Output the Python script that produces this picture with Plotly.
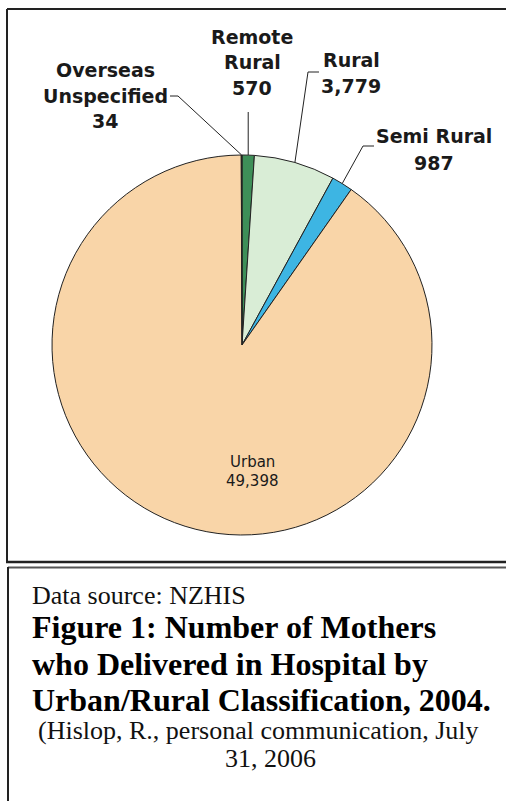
import math
import plotly.graph_objects as go

W, H = 506, 801

# ---- data ----
labels = ["Remote Rural", "Rural", "Semi Rural", "Urban", "Overseas Unspecified"]
values = [570, 3779, 987, 49398, 34]
colors = ["#3e8f58", "#d9edd6", "#3db5e3", "#f9d5a8", "#1f3a27"]

caption_source = "Data source: NZHIS"
caption_title = ["Figure 1: Number of Mothers",
                 "who Delivered in Hospital by",
                 "Urban/Rural Classification, 2004."]
caption_ref = ["(Hislop, R., personal communication, July", "31, 2006"]

# ---- geometry (pixels) ----
CX, CY, R = 242, 345, 190


def px(x, y):
    return x / W, 1 - y / H


def edge_point(label, frac=0.5):
    """point on pie rim at a fraction through the slice (clockwise from 12 o'clock)"""
    total = sum(values)
    i = labels.index(label)
    start = sum(values[:i])
    ang = (start + frac * values[i]) / total * 2 * math.pi
    return CX + R * math.sin(ang), CY - R * math.cos(ang)


fig = go.Figure(go.Pie(
    labels=labels, values=values, sort=False, direction="clockwise", rotation=0,
    marker=dict(colors=colors, line=dict(color="#222222", width=1)),
    textinfo="none", hoverinfo="label+value", showlegend=False,
    domain=dict(x=[(CX - R) / W, (CX + R) / W], y=[1 - (CY + R) / H, 1 - (CY - R) / H]),
))

ann = []
shapes = []


def text(x, y, s, size, family="DejaVu Sans", bold=False, anchor="center", color="#1a1a1a"):
    xx, yy = px(x, y)
    ann.append(dict(x=xx, y=yy, xref="paper", yref="paper", text=("<b>%s</b>" % s) if bold else s,
                    showarrow=False, xanchor=anchor, yanchor="middle",
                    font=dict(family=family, size=size, color=color)))


def line(pts, width=1, color="#222222"):
    for (x0, y0), (x1, y1) in zip(pts[:-1], pts[1:]):
        a, b = px(x0, y0)
        c, d = px(x1, y1)
        shapes.append(dict(type="line", xref="paper", yref="paper", x0=a, y0=b, x1=c, y1=d,
                           line=dict(color=color, width=width)))


# slice labels
LS = 19
for s, y in zip(["Remote", "Rural", "570"], [37, 62, 88]):
    text(252, y, s, LS, bold=True)
for s, y in zip(["Overseas", "Unspecified", "34"], [70, 96, 121]):
    text(105, y, s, LS, bold=True)
for s, y in zip(["Rural", "3,779"], [60, 86]):
    text(351, y, s, LS, bold=True)
for s, y in zip(["Semi Rural", "987"], [136, 163]):
    text(434, y, s, LS, bold=True)
text(252, 462, "Urban", 15)
text(252, 481, "49,398", 15)

# leader lines
rx, ry = edge_point("Remote Rural")
line([(rx, 112), (rx, ry)])
ox, oy = edge_point("Overseas Unspecified")
line([(170, 96), (178, 96), (ox, oy)])
ux, uy = edge_point("Rural")
line([(319, 72), (308, 72), (ux, uy)])
sx, sy = edge_point("Semi Rural")
line([(374, 146), (363, 146), (sx, sy)])

# boxes
line([(7, 9), (W + 5, 9)], width=2)
line([(7, 9), (7, 562)], width=2)
line([(6, 562), (W + 5, 562)], width=2.5)
line([(8, 567.5), (W + 5, 567.5)], width=2, color="#555555")
line([(8, 567), (8, H + 5)], width=2, color="#222222")

# caption
SERIF = "Liberation Serif"
text(30, 595, caption_source, 26, family=SERIF, anchor="left", color="#111111")
for s, y in zip(caption_title, [627, 664, 700]):
    text(30, y, s, 32, family=SERIF, bold=True, anchor="left", color="#000000")
text(258, 730, caption_ref[0], 26, family=SERIF, color="#111111")
text(270, 758, caption_ref[1], 26, family=SERIF, color="#111111")

fig.update_layout(width=W, height=H, margin=dict(l=0, r=0, t=0, b=0),
                  paper_bgcolor="white", plot_bgcolor="white",
                  annotations=ann, shapes=shapes)
fig.write_html("out.html")
